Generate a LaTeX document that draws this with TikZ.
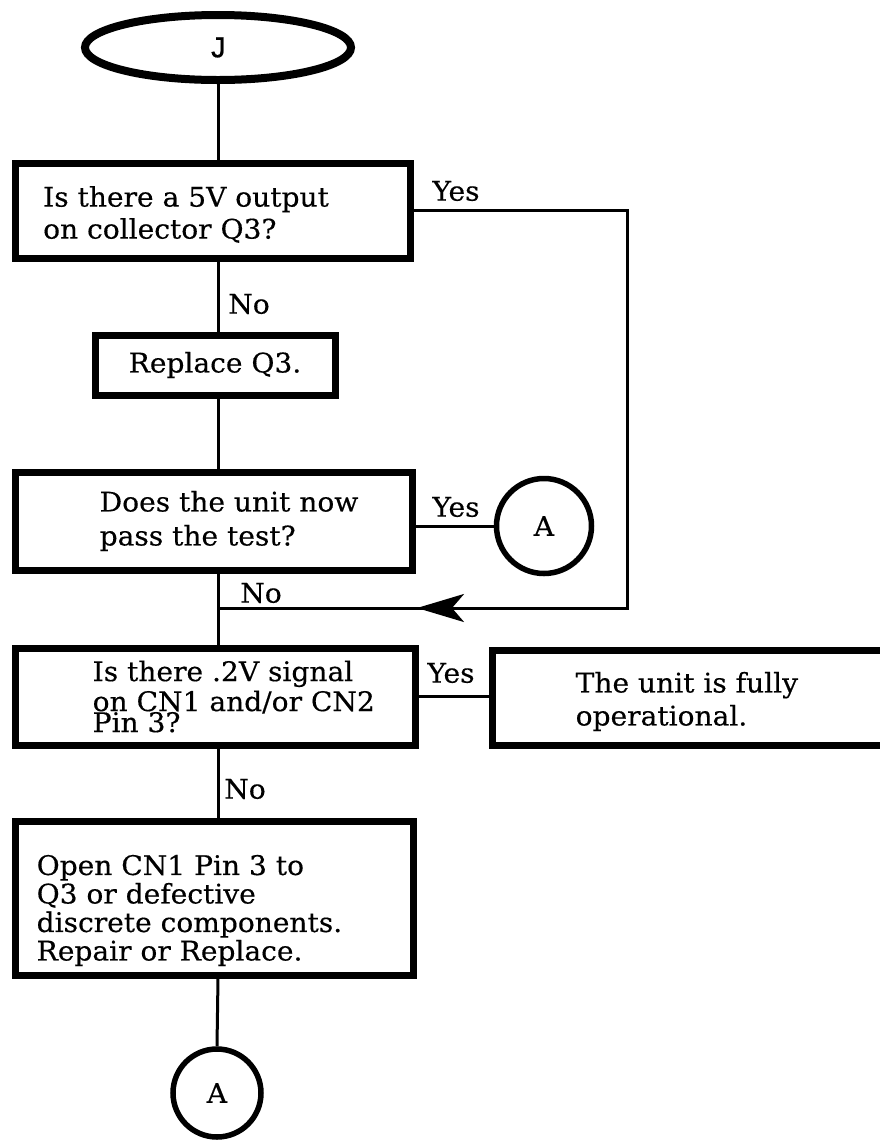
\documentclass[tikz,border=0pt]{standalone}
\usepackage{fontspec}
\setmainfont{DejaVu Serif}[FakeStretch=1.04,FakeBold=0.4]
\newfontfamily\monof{Liberation Mono}[FakeBold=0.6]
\usetikzlibrary{arrows.meta,decorations.markings,shapes.geometric}
\tikzset{
  box/.style={draw, line width=7pt, rectangle, inner sep=0pt},
  txt/.style={align=left, inner sep=0pt, anchor=west, font=\fontsize{27}{32}\selectfont},
  lbl/.style={inner sep=0pt, font=\fontsize{27}{30}\selectfont},
  conn/.style={line width=3pt},
  conncircle/.style={draw, circle, line width=5.5pt, inner sep=0pt, font=\fontsize{27}{30}\selectfont},
}
\begin{document}
\begin{tikzpicture}[x=1pt,y=-1pt]
\useasboundingbox (0,0) rectangle (880,1144);
% terminal
\node[draw, ellipse, line width=8pt, minimum width=266pt, minimum height=65pt, inner sep=0pt, font=\monof\fontsize{30}{32}\selectfont] (e) at (218,47.5) {J};
% boxes
\node[box, minimum width=395pt, minimum height=95pt] (b1) at (212.5,210.5) {};
\node[txt] (t1) at ([xshift=31.5pt,yshift=-4pt]b1.west) {Is there a 5V output\\on collector Q3?};
\node[box, minimum width=240pt, minimum height=60pt, font=\fontsize{27}{30}\selectfont] (b2) at (215,365) {Replace Q3.};
\node[box, minimum width=397pt, minimum height=98pt] (b3) at (213.5,521) {};
\node[txt, font=\fontsize{27}{34}\selectfont] (t3) at ([xshift=88pt]b3.west) {Does the unit now\\pass the test?};
\node[box, minimum width=400pt, minimum height=97pt] (b4) at (215,696.5) {};
\node[txt, font=\fontsize{27}{30}\selectfont] (t4) at ([xshift=81pt,yshift=0pt]b4.west) {Is there .2V signal\\on CN1 and/or CN2\\[-9pt]Pin 3?};
\node[box, minimum width=392pt, minimum height=95pt] (b5) at (688,697.5) {};
\node[txt, font=\fontsize{27}{33}\selectfont] (t5) at ([xshift=87pt,yshift=-4pt]b5.west) {The unit is fully\\operational.};
\node[box, minimum width=398pt, minimum height=154pt] (b6) at (214,898) {};
\node[txt, font=\fontsize{27}{28.5}\selectfont] (t6) at ([xshift=25pt,yshift=-12.5pt]b6.west) {Open CN1 Pin 3 to\\Q3 or defective\\discrete components.\\Repair or Replace.};
% connectors circles
\node[conncircle, minimum size=95pt] (a1) at (544,526) {A};
\node[conncircle, minimum size=88pt] (a2) at (217,1093) {A};
% labels
\node[lbl] (y1) at (456,191) {Yes};
\node[lbl] (y3) at (456,507) {Yes};
\node[lbl] (y4) at (451,673) {Yes};
\node[lbl] (n1) at (249,304) {No};
\node[lbl] (n3) at (261,593) {No};
\node[lbl] (n4) at (245,789) {No};
% coordinates
\coordinate (rc) at (627,608);
\coordinate (mg) at (217,608);
% lines
\draw[conn] (e.south) -- (e.south |- b1.north);
\draw[conn] (e.south |- b1.south) -- (e.south |- b2.north);
\draw[conn] (e.south |- b2.south) -- (e.south |- b3.north);
\draw[conn] (e.south |- b3.south) -- (e.south |- b4.north);
\draw[conn] (e.south |- b4.south) -- (e.south |- b6.north);
\draw[conn] (e.south |- b6.south) -- (a2.north);
\draw[conn] (a1.west -| b3.east) -- (a1.west);
\draw[conn] (b4.east) -- (b4.east -| b5.west);
\draw[conn, postaction={decorate}, decoration={markings, mark=at position 821pt with {\arrow{Stealth[length=47pt,width=28pt,inset=12pt]}}}] (b1.east) -| (rc) -- (mg);
\end{tikzpicture}
\end{document}
